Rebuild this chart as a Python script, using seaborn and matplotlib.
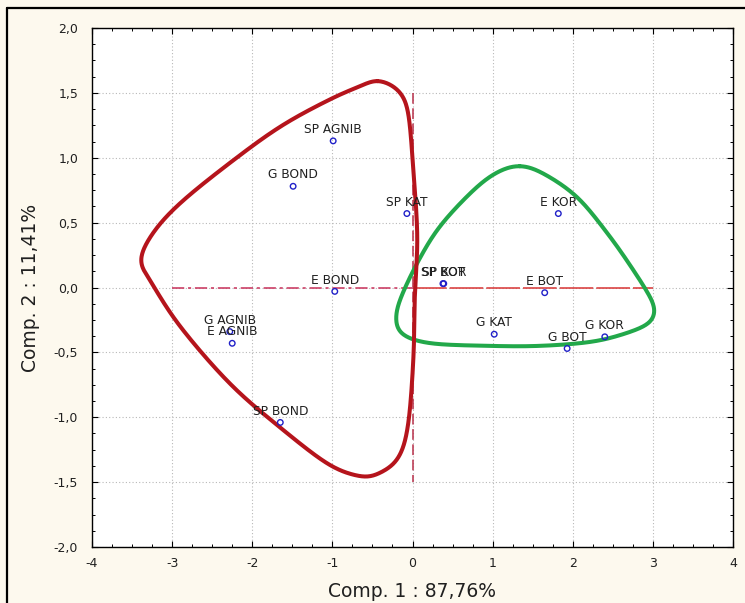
import numpy as np
import pandas as pd
import matplotlib
matplotlib.use("Agg")
import matplotlib.pyplot as plt
from matplotlib.ticker import FuncFormatter, MultipleLocator
from matplotlib.lines import Line2D
import seaborn as sns

# ---------------- data ----------------
labels = ["SP AGNIB", "G BOND", "SP KAT", "E BOND", "SP BOT", "SP KOR",
          "E KOR", "E BOT", "G KAT", "G BOT", "G KOR",
          "G AGNIB", "E AGNIB", "SP BOND"]
comp1 = [-0.99, -1.49, -0.07, -0.97, 0.38, 0.39,
         1.82, 1.65, 1.02, 1.93, 2.40,
         -2.28, -2.25, -1.65]
comp2 = [1.13, 0.78, 0.57, -0.03, 0.03, 0.03,
         0.57, -0.04, -0.36, -0.47, -0.38,
         -0.34, -0.43, -1.04]

# hand-drawn cluster outlines
red_x = [-0.44, -0.19, -0.06, 0.01, 0.06, 0.03, 0.01, -0.06, -0.19, -0.44,
         -0.62, -1.03, -1.65, -2.28, -2.90, -3.28, -3.40, -3.24, -2.90,
         -2.28, -1.65, -1.03, -0.62]
red_y = [1.60, 1.53, 1.37, 0.91, 0.39, -0.04, -0.56, -1.08, -1.33, -1.44,
         -1.46, -1.37, -1.08, -0.74, -0.30, 0.06, 0.21, 0.42, 0.65,
         0.96, 1.24, 1.45, 1.56]
green_x = [1.34, 1.63, 2.05, 2.43, 2.75, 2.99, 3.03, 2.95, 2.63, 2.22,
           1.59, 0.97, 0.22, -0.14, -0.21, -0.16, 0.06, 0.34, 0.76, 1.06]
green_y = [0.94, 0.88, 0.70, 0.42, 0.14, -0.10, -0.20, -0.28, -0.36, -0.42,
           -0.45, -0.45, -0.43, -0.36, -0.25, -0.10, 0.19, 0.47, 0.75, 0.89]

x_ticks = [-4, -3, -2, -1, 0, 1, 2, 3, 4]
y_ticks = [-2.0, -1.5, -1.0, -0.5, 0.0, 0.5, 1.0, 1.5, 2.0]
x_label = "Comp. 1 : 87,76%"
y_label = "Comp. 2 : 11,41%"

SX, SY = 80.1, 129.75  # approx px per data unit, for smoothing only


def closed_catmull(xs, ys, n=40):
    P = np.column_stack([xs, ys]).astype(float)
    N = len(P)
    t = np.linspace(0, 1, n, endpoint=False)[:, None]
    segs = []
    for i in range(N):
        p0, p1, p2, p3 = P[i - 1], P[i], P[(i + 1) % N], P[(i + 2) % N]
        segs.append(0.5 * (2 * p1 + (-p0 + p2) * t
                           + (2 * p0 - 5 * p1 + 4 * p2 - p3) * t ** 2
                           + (-p0 + 3 * p1 - 3 * p2 + p3) * t ** 3))
    out = np.vstack(segs + [P[:1]])
    return out[:, 0], out[:, 1]


def smooth_closed(xs, ys, sigma=7.0):
    x, y = closed_catmull(xs, ys)
    X, Y = x * SX, y * SY
    s = np.concatenate([[0], np.cumsum(np.hypot(np.diff(X), np.diff(Y)))])
    L = s[-1]
    m = int(L)
    su = np.linspace(0, L, m, endpoint=False)
    Xu, Yu = np.interp(su, s, X), np.interp(su, s, Y)
    r = int(4 * sigma)
    k = np.exp(-0.5 * (np.arange(-r, r + 1) / sigma) ** 2)
    k /= k.sum()
    Xs = np.convolve(np.concatenate([Xu[-r:], Xu, Xu[:r]]), k, mode="valid")
    Ys = np.convolve(np.concatenate([Yu[-r:], Yu, Yu[:r]]), k, mode="valid")
    Xs, Ys = np.append(Xs, Xs[0]), np.append(Ys, Ys[0])
    return Xs / SX, Ys / SY


# ---------------- figure ----------------
sns.set_theme(style="white")
plt.rcParams["font.family"] = ["DejaVu Sans"]

bg = "#fdf9ee"
fig = plt.figure(figsize=(7.45, 6.03), dpi=100, facecolor=bg)
ax = fig.add_axes([92 / 745, 1 - 547 / 603, (733 - 92) / 745, (547 - 28) / 603])
ax.set_facecolor("white")

# figure frame (top / left visible)
fig.add_artist(Line2D([7.5 / 745, 7.5 / 745], [0, 1 - 7.5 / 603], transform=fig.transFigure,
                      color="black", lw=1.6))
fig.add_artist(Line2D([7.5 / 745, 1], [1 - 7.5 / 603, 1 - 7.5 / 603], transform=fig.transFigure,
                      color="black", lw=1.6))

ax.set_xlim(-4, 4)
ax.set_ylim(-2, 2)
ax.set_xticks(x_ticks)
ax.set_yticks(y_ticks)
ax.xaxis.set_minor_locator(MultipleLocator(0.25))
ax.yaxis.set_minor_locator(MultipleLocator(0.125))
ax.grid(True, which="major", color="#b8b8b8", linestyle=(0, (1, 2)), lw=0.8)
ax.set_axisbelow(True)

# reference lines
ax.plot([-3, 0], [0, 0], color="#c8305a", lw=1.1, ls=(0, (8, 2.5, 2, 2.5)), zorder=2)
ax.plot([0, 3], [0, 0], color="#d83434", lw=1.1, ls=(0, (22, 2)), zorder=2)
ax.plot([0, 0], [1.5, -1.5], color="#b8304a", lw=1.1, ls=(0, (7, 3)), zorder=2)

# outlines
rx, ry = smooth_closed(red_x, red_y)
gx, gy = smooth_closed(green_x, green_y)
sns.lineplot(x=gx, y=gy, sort=False, estimator=None, color="#22a84a", lw=2.9, ax=ax, zorder=3)
sns.lineplot(x=rx, y=ry, sort=False, estimator=None, color="#b5141c", lw=2.9, ax=ax, zorder=4)

# points
df = pd.DataFrame({"c1": comp1, "c2": comp2, "lab": labels})
sns.scatterplot(data=df, x="c1", y="c2", ax=ax, s=16, facecolor="none",
                edgecolor="#2020c8", linewidth=1.0, zorder=5)
for x, y, t in zip(comp1, comp2, labels):
    ax.annotate(t, (x, y), xytext=(0, 3.5), textcoords="offset points",
                ha="center", va="bottom", fontsize=8.8, color="#202020", zorder=6)

fmt = FuncFormatter(lambda v, p: f"{v:.1f}".replace(".", ","))
ax.yaxis.set_major_formatter(fmt)
ax.xaxis.set_major_formatter(FuncFormatter(lambda v, p: f"{v:.0f}"))

ax.tick_params(which="both", direction="in", top=True, right=True,
               bottom=True, left=True, color="black")
ax.tick_params(which="major", length=4, width=0.8, labelsize=9, labelcolor="#202020")
ax.tick_params(axis="y", which="major", pad=10)
ax.tick_params(axis="x", which="major", pad=7)
ax.tick_params(which="minor", length=2.5, width=0.7)
for s in ax.spines.values():
    s.set_color("black")
    s.set_linewidth(1.0)

ax.set_xlabel(x_label, fontsize=13.5, color="#202020", labelpad=9)
ax.set_ylabel(y_label, fontsize=13.5, color="#202020", labelpad=10)

fig.savefig("out.png", dpi=100, facecolor=bg)
